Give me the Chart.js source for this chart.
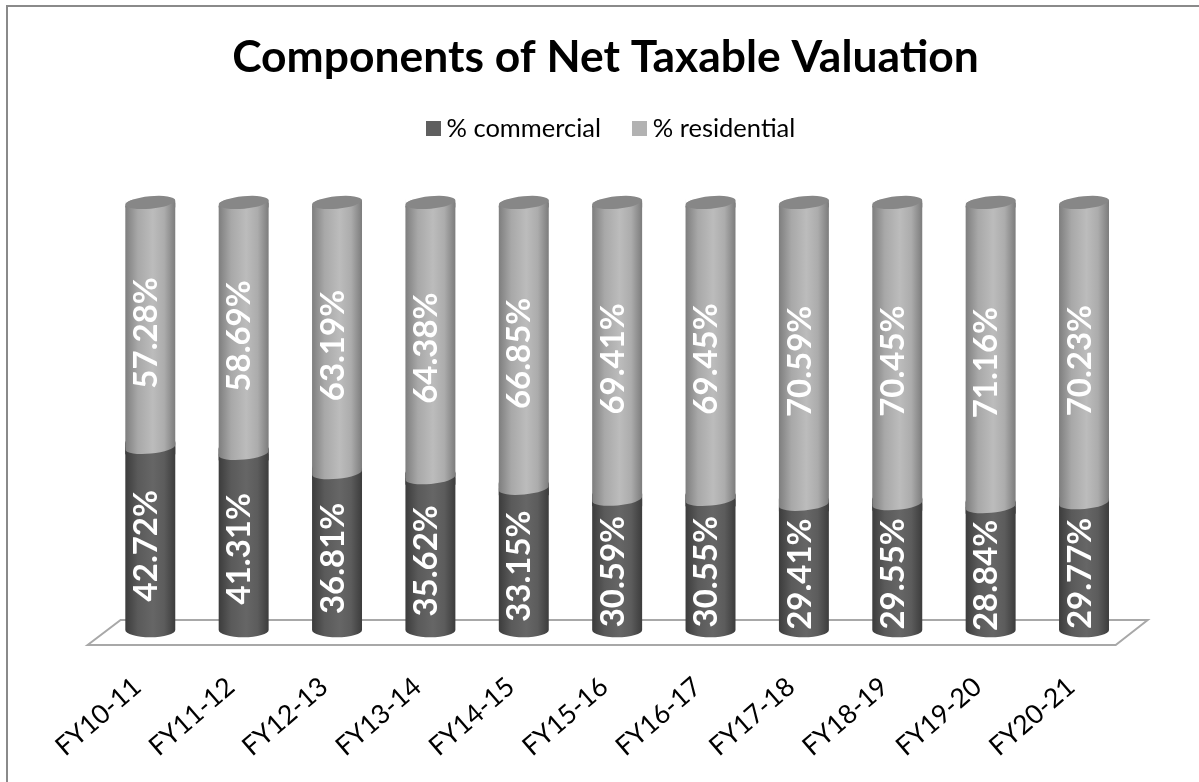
<!DOCTYPE html>
<html><head><meta charset="utf-8">
<style>html,body{margin:0;padding:0;background:#fff}#wrap{position:relative;width:1199px;height:782px}</style>
<script src="https://cdn.jsdelivr.net/npm/chart.js@4"></script>
</head><body><div id="wrap"><canvas id="c" width="1199" height="782"></canvas></div>
<script>
const categories = ["FY10-11","FY11-12","FY12-13","FY13-14","FY14-15","FY15-16","FY16-17","FY17-18","FY18-19","FY19-20","FY20-21"];
const commercial = [42.72,41.31,36.81,35.62,33.15,30.59,30.55,29.41,29.55,28.84,29.77];
const residential = [57.28,58.69,63.19,64.38,66.85,69.41,69.45,70.59,70.45,71.16,70.23];
const commercialLabels = ["42.72%","41.31%","36.81%","35.62%","33.15%","30.59%","30.55%","29.41%","29.55%","28.84%","29.77%"];
const residentialLabels = ["57.28%","58.69%","63.19%","64.38%","66.85%","69.41%","69.45%","70.59%","70.45%","71.16%","70.23%"];
const FONT = "Lato, Carlito, sans-serif";
const darkStops = ["#3c3c3c","#5a5a5a","#666666","#5c5c5c","#3c3c3c"];
const lightStops = ["#7e7e7e","#a8a8a8","#bcbcbc","#acacac","#7c7c7c"];
const stopAt = [0,0.25,0.55,0.78,1];
function grad(ctx,x,w,stops){
  const g = ctx.createLinearGradient(x-w/2,0,x+w/2,0);
  stops.forEach((s,i)=>g.addColorStop(stopAt[i],s));
  return g;
}
function barFill(stops){
  return c=>{
    const chart=c.chart;
    if(!chart.chartArea) return stops[2];
    const el=chart.getDatasetMeta(c.datasetIndex).data[c.dataIndex];
    const x=chart.scales.x.getPixelForValue(c.dataIndex);
    const w=el&&el.width?el.width:50;
    return grad(chart.ctx,x,w,stops);
  };
}
function swatch(color){
  const s=document.createElement('canvas');s.width=15;s.height=15;
  const g=s.getContext('2d');g.fillStyle=color;g.fillRect(0,0,15,15);
  return s;
}
const TILT=-5.5*Math.PI/180, RY=6.2;
const cyl3d={
  id:'cyl3d',
  afterLayout(chart){ chart.legend.left+=8.5; chart.legend.right+=8.5; },
  beforeDatasetsDraw(chart){
    const {ctx,chartArea:a}=chart;
    const y0=chart.scales.y.getPixelForValue(0);
    ctx.save();
    ctx.strokeStyle='#a8a8a8';ctx.lineWidth=2;
    ctx.beginPath();
    ctx.moveTo(a.left-16,y0+15);ctx.lineTo(a.left+17,y0-10);
    ctx.lineTo(a.right+17,y0-10);ctx.lineTo(a.right-15,y0+15);ctx.closePath();
    ctx.stroke();ctx.restore();
  },
  afterDatasetsDraw(chart){
    const {ctx}=chart;
    const m0=chart.getDatasetMeta(0), m1=chart.getDatasetMeta(1);
    ctx.save();
    m0.data.forEach((el,i)=>{
      const w=el.width,x=el.x,L=x-w/2,R=x+w/2;
      const dark=grad(ctx,x,w,darkStops), light=grad(ctx,x,w,lightStops);
      const hi=m1.data[i];
      // rounded foot of the cylinder
      ctx.fillStyle=dark;ctx.beginPath();ctx.ellipse(x,el.base,w/2,RY+1,0,0,Math.PI);ctx.fill();
      // curved, tilted seam between the two segments
      const by=hi.base;
      ctx.fillStyle=dark;ctx.fillRect(L,by-5,w,12);
      ctx.fillStyle=light;ctx.beginPath();
      ctx.ellipse(x,by,w/2,RY,TILT,0,Math.PI);
      ctx.lineTo(L,by-6);ctx.lineTo(R,by-6);ctx.closePath();ctx.fill();
      // tilted top of the cylinder
      const ty=hi.y;
      ctx.fillStyle=light;ctx.fillRect(L,ty-3,w,8);
      ctx.fillStyle='#ffffff';ctx.beginPath();
      ctx.ellipse(x,ty,w/2,RY,TILT,Math.PI,Math.PI*2);
      ctx.lineTo(R+1,ty-10);ctx.lineTo(L-1,ty-10);ctx.closePath();ctx.fill();
      ctx.fillRect(L-1,ty-10,1.2,13);ctx.fillRect(R-.2,ty-10,1.2,8);
      ctx.fillStyle='#878787';ctx.beginPath();
      ctx.ellipse(x,ty,w/2,RY,TILT,0,Math.PI*2);ctx.fill();
    });
    const txt=(x,y,s)=>{
      ctx.save();ctx.translate(x,y);ctx.rotate(-Math.PI/2);
      ctx.font='700 33px '+FONT;ctx.fillStyle='#ffffff';
      ctx.textAlign='center';ctx.textBaseline='middle';
      ctx.fillText(s,0,0);ctx.restore();
    };
    m0.data.forEach((el,i)=>{
      txt(el.x-4,(el.y+el.base)/2+7,commercialLabels[i]);
      const h=m1.data[i];
      txt(h.x-4,(h.y+h.base)/2+8,residentialLabels[i]);
    });
    ctx.restore();
  },
  afterDraw(chart){
    const {ctx}=chart;
    ctx.save();ctx.strokeStyle='#8a8a8a';ctx.lineWidth=2;
    ctx.beginPath();ctx.moveTo(7,782);ctx.lineTo(7,6);ctx.lineTo(1199,6);ctx.stroke();
    ctx.restore();
  }
};
const hidden={grid:{display:false},border:{display:false},ticks:{display:false}};
new Chart(document.getElementById('c'),{
  type:'bar',
  data:{labels:categories,datasets:[
    {label:'% commercial',data:commercial,backgroundColor:barFill(darkStops),borderWidth:0,barPercentage:0.535,categoryPercentage:1},
    {label:'% residential',data:residential,backgroundColor:barFill(lightStops),borderWidth:0,barPercentage:0.535,categoryPercentage:1}
  ]},
  plugins:[cyl3d],
  options:{
    responsive:false,animation:false,
    layout:{padding:{left:12,right:0,top:38,bottom:0}},
    plugins:{
      title:{display:true,text:'Components of Net Taxable Valuation',color:'#000',
        font:{family:FONT,size:44.4,weight:'700',lineHeight:0.9},padding:{top:0,bottom:0}},
      legend:{display:true,position:'top',
        labels:{color:'#111',font:{family:FONT,size:25.5},usePointStyle:true,boxWidth:1,boxHeight:15,padding:38,
          generateLabels(){return [
            {text:'% commercial',pointStyle:swatch('#5f5f5f'),fillStyle:'#5f5f5f',strokeStyle:'#5f5f5f',lineWidth:0,datasetIndex:0},
            {text:'% residential',pointStyle:swatch('#b2b2b2'),fillStyle:'#b2b2b2',strokeStyle:'#b2b2b2',lineWidth:0,datasetIndex:1}];}}},
      tooltip:{enabled:false}
    },
    scales:{
      x:{stacked:true,grid:{display:false},border:{display:false},
        ticks:{color:'#000',font:{family:FONT,size:26.5},minRotation:41,maxRotation:41,padding:33,labelOffset:-13,autoSkip:false},
        afterFit(s){s.height=152;}},
      x2:{...hidden,type:'category',position:'top',afterFit(s){s.height=51;}},
      y:{...hidden,stacked:true,min:0,max:100,afterFit(s){s.width=91.6;}},
      y2:{...hidden,position:'right',afterFit(s){s.width=68.3;}}
    }
  }
});
</script></body></html>
